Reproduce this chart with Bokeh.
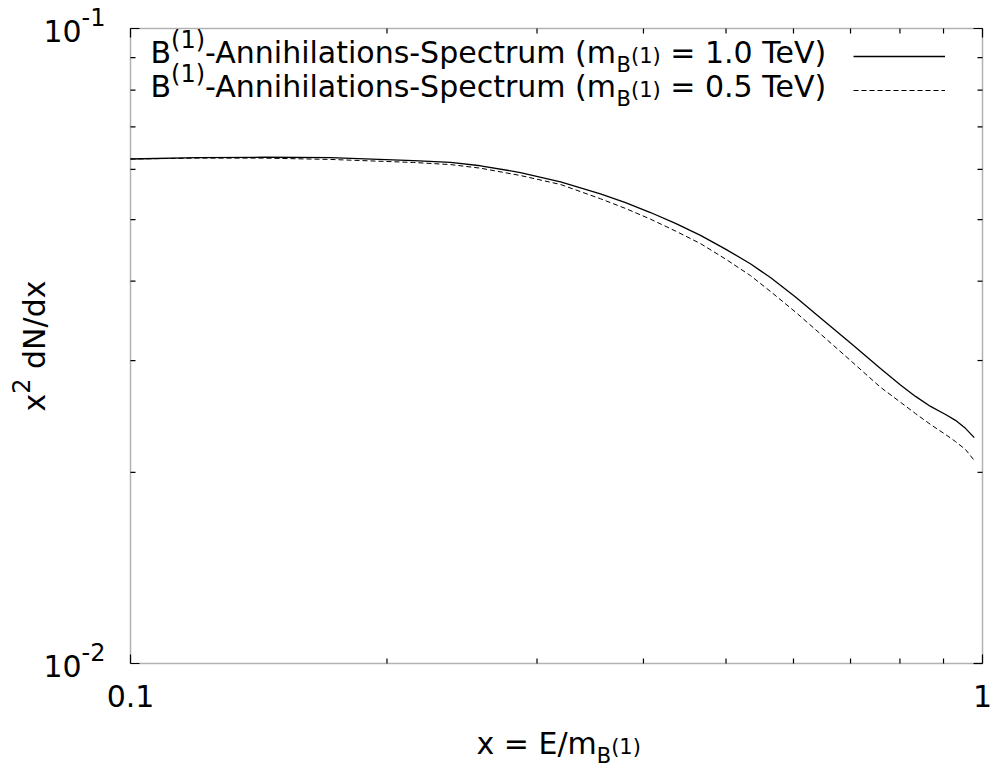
import math
from bokeh.plotting import figure
from bokeh.models import Label, Legend, LegendItem, BoxAnnotation
from bokeh.core.properties import value
from bokeh.embed import file_html
from bokeh.resources import INLINE

# ---------------- data ----------------
x_ratio = [0.1000, 0.1198, 0.1433, 0.1717, 0.2149, 0.2375, 0.2575, 0.2868, 0.3197,
           0.3561, 0.3811, 0.4077, 0.4362, 0.4667, 0.4993, 0.5340, 0.5638, 0.6033,
           0.6455, 0.7000, 0.7590, 0.8012, 0.8344, 0.8690, 0.9050, 0.9296, 0.9550, 0.9780]
spec_1_0TeV = [0.0623, 0.0626, 0.0627, 0.0626, 0.06195, 0.06152, 0.06079, 0.05932, 0.05736,
               0.05491, 0.05318, 0.05131, 0.04932, 0.04723, 0.04494, 0.04262, 0.04053, 0.03778,
               0.03500, 0.03198, 0.02914, 0.02746, 0.02634, 0.02540, 0.02467, 0.02415, 0.02346, 0.02268]
spec_0_5TeV = [0.0623, 0.0625, 0.0625, 0.0622, 0.06152, 0.06105, 0.06026, 0.05868, 0.05680,
               0.05394, 0.05207, 0.05009, 0.04798, 0.04584, 0.04335, 0.04083, 0.03854, 0.03576,
               0.03303, 0.03000, 0.02723, 0.02579, 0.02475, 0.02379, 0.02294, 0.02236, 0.02173, 0.02088]

x_major = [0.1, 1.0]
x_minor = [0.2, 0.3, 0.4, 0.5, 0.6, 0.7, 0.8, 0.9]
y_major = [0.01, 0.1]
y_minor = [0.02, 0.03, 0.04, 0.05, 0.06, 0.07, 0.08, 0.09]
x_tick_labels = ["0.1", "1"]
y_tick_base = ["10", "10"]
y_tick_exp = ["-2", "-1"]
legend_masses = ["1.0", "0.5"]

# ---------------- layout / style ----------------
FONT = "DejaVu Sans"
S = 30
CW, CH = 991, 769
FL, FT, FR, FB = 130, 28, 982, 663          # plot box in canvas pixels
MAJ, MIN = 9, 5                             # tick lengths (px)
BFIX = 0.43                                 # baseline correction (fraction of font size)

# DejaVu Sans advance widths (units per em = 2048)
ADV = {' ': 651, '(': 799, ')': 799, '-': 739, '.': 651, '/': 690, '=': 1716,
       '0': 1303, '1': 1303, '2': 1303, '5': 1303,
       'A': 1401, 'B': 1405, 'E': 1294, 'N': 1532, 'S': 1300, 'T': 1251, 'V': 1401,
       'a': 1255, 'c': 1126, 'd': 1300, 'e': 1260, 'h': 1298, 'i': 569, 'l': 569,
       'm': 1995, 'n': 1298, 'o': 1253, 'p': 1300, 'r': 842, 's': 1067, 't': 803,
       'u': 1298, 'x': 1212}


def tw(s, size):
    return sum(ADV.get(c, 1200) for c in s) / 2048.0 * size


# frame covers the whole canvas; ranges widened so that the data box
# [0.1,1]x[0.01,0.1] lands on the plot box above
lx0, lx1 = math.log10(x_major[0]), math.log10(x_major[-1])
ly0, ly1 = math.log10(y_major[0]), math.log10(y_major[-1])
xpd = (FR - FL) / (lx1 - lx0)
ypd = (FB - FT) / (ly1 - ly0)
x_rng = (10 ** (lx0 - FL / xpd), 10 ** (lx1 + (CW - FR) / xpd))
y_rng = (10 ** (ly0 - (CH - FB) / ypd), 10 ** (ly1 + FT / ypd))

p = figure(width=CW, height=CH, x_axis_type="log", y_axis_type="log",
           x_range=x_rng, y_range=y_rng,
           x_axis_location=None, y_axis_location=None,
           output_backend="svg", toolbar_location=None, min_border=0)
p.background_fill_color = "white"
p.border_fill_color = "white"
p.outline_line_color = None
p.grid.visible = False

# plot box
p.add_layout(BoxAnnotation(left=x_major[0], right=x_major[-1],
                           bottom=y_major[0], top=y_major[-1],
                           fill_color=None, fill_alpha=0,
                           line_color="black", line_width=1.5))


# inward ticks on all four sides
def ticks(xs, ys, angle, length):
    p.ray(x=xs, y=ys, length=length, angle=angle, length_units="screen",
          line_color="black", line_width=1.2)


for vals, ln in ((x_minor, MIN), (x_major, MAJ)):
    ticks(vals, [y_major[0]] * len(vals), math.pi / 2, ln)
    ticks(vals, [y_major[-1]] * len(vals), -math.pi / 2, ln)
for vals, ln in ((y_minor, MIN), (y_major, MAJ)):
    ticks([x_major[0]] * len(vals), vals, 0.0, ln)
    ticks([x_major[-1]] * len(vals), vals, math.pi, ln)

# curves
r1 = p.line(x_ratio, spec_1_0TeV, line_color="black", line_width=1.3)
r2 = p.line(x_ratio, spec_0_5TeV, line_color="black", line_width=1.0, line_dash="5 3")

# legend keys (texts drawn separately because of sub/superscripts)
leg_top, row_h = 39, 34
leg = Legend(items=[LegendItem(label=value(""), renderers=[r1]),
                    LegendItem(label=value(""), renderers=[r2])],
             location=(853, CH - (leg_top + 2 * row_h)),
             glyph_width=92, glyph_height=row_h, label_width=0, label_height=row_h,
             label_standoff=0, padding=0, spacing=0, margin=0,
             border_line_alpha=0, background_fill_alpha=0,
             label_text_font_size="1px")
p.add_layout(leg)


def add_label(size, rotated=False, **kw):
    base = dict(text_font=FONT, text_baseline="alphabetic", text_align="left",
                text_color="black", text_font_size=f"{size:.1f}px")
    base.update(kw)
    fix = BFIX * size
    if rotated:
        base["x_offset"] = base.get("x_offset", 0) - fix
        base["angle"] = math.pi / 2
    else:
        base["y_offset"] = base.get("y_offset", 0) + fix
    p.add_layout(Label(**base))


def run_screen(x0, y0, pieces, rotated=False):
    """pieces: (text, scale, rise in units of S); x0, y0 canvas px of baseline start."""
    pos = 0.0
    for t, sc, rise in pieces:
        size = S * sc
        lead = len(t) - len(t.lstrip(" "))
        pos += tw(" " * lead, size)
        t = t.strip(" ")
        if not rotated:
            cx, cy = x0 + pos, y0 - rise * S
        else:
            cx, cy = x0 - rise * S, y0 - pos
        add_label(size, rotated, x=cx, y=CH - cy, x_units="screen", y_units="screen", text=t)
        pos += tw(t, size)


# x tick labels (centered under the ticks)
for v, t in zip(x_major, x_tick_labels):
    add_label(S, x=v, y=CH - 708, x_units="data", y_units="screen", text=t,
              text_align="center")

# y tick labels 10^n, right-aligned left of the plot box
for v, b, e in zip(y_major, y_tick_base, y_tick_exp):
    wb, we = tw(b, S), tw(e, 0.8 * S)
    right = 105
    add_label(S, x=right - we - wb, y=v, x_units="screen", y_units="data",
              y_offset=-15, text=b)
    add_label(0.8 * S, x=right - we, y=v, x_units="screen", y_units="data",
              y_offset=-15 + 0.55 * S, text=e)

# axis titles
run_screen(476, 756, [("x = E/m", 1, 0), ("B", 0.7, -0.3), ("(1)", 0.7, 0.0)])
run_screen(47, 411, [("x", 1, 0), ("2", 0.8, 0.55), (" dN/dx", 1, 0)], rotated=True)

# legend texts
for i, m in enumerate(legend_masses):
    yb = 65 + row_h * i
    run_screen(150, yb, [("B", 1, 0), ("(1)", 0.8, 0.5),
                         ("-Annihilations-Spectrum (m", 1, 0),
                         ("B", 0.7, -0.3), ("(1)", 0.7, 0.0),
                         (f" = {m} TeV)", 1, 0)])

open("out.html", "w").write(file_html(p, INLINE))
